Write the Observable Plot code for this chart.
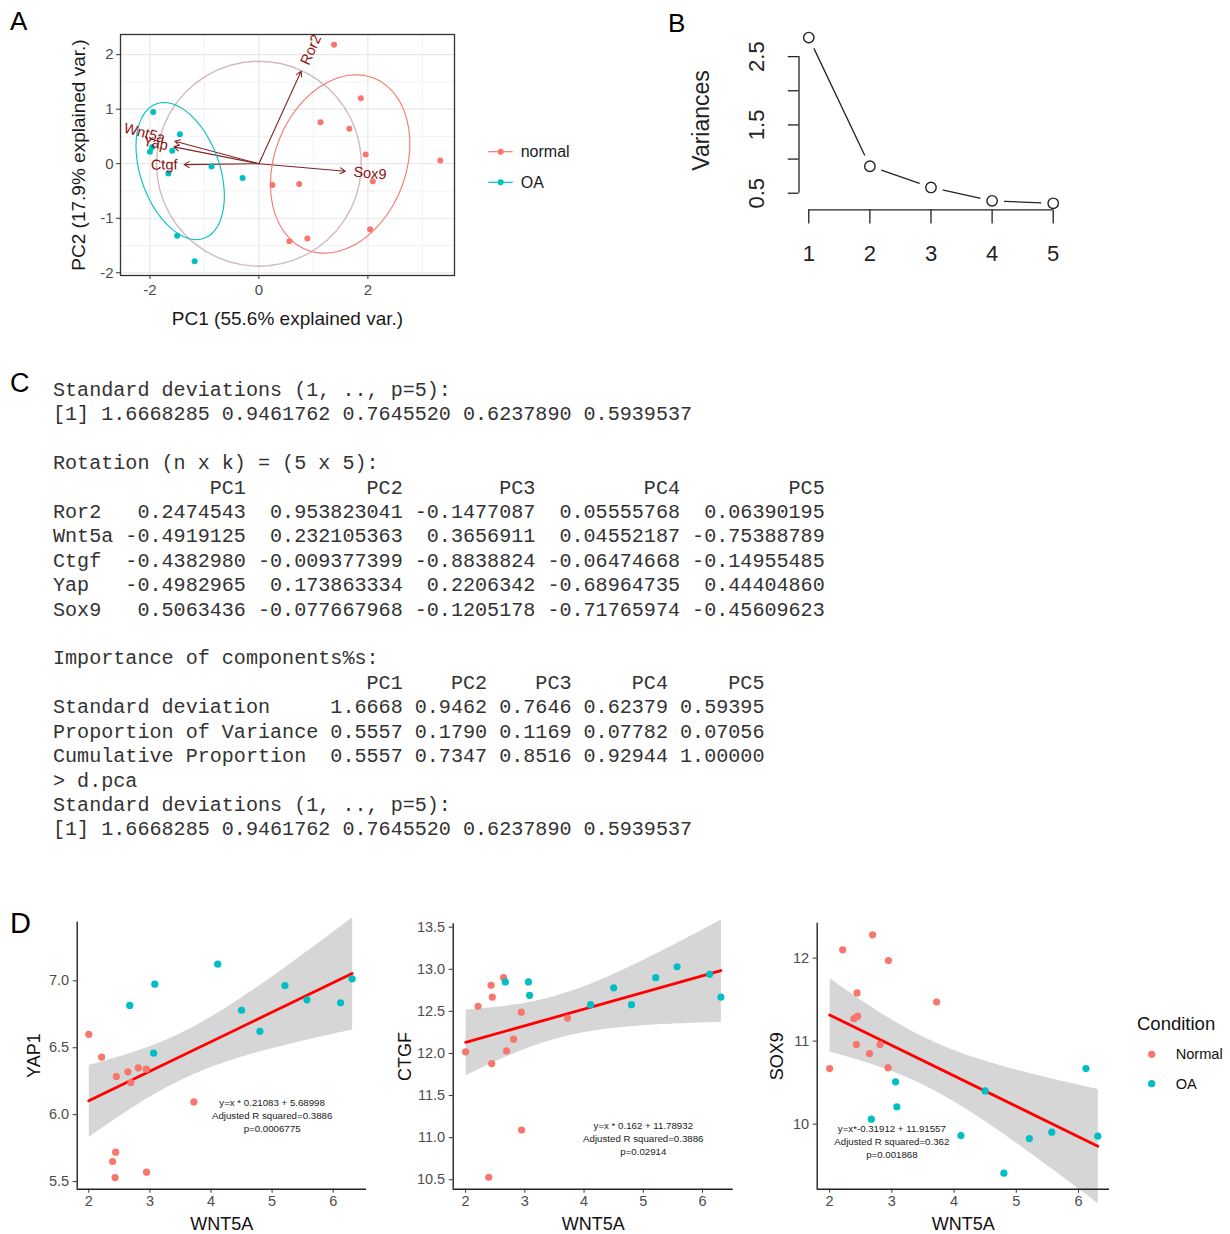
<!DOCTYPE html>
<html><head><meta charset="utf-8">
<script src="https://cdn.jsdelivr.net/npm/d3@7"></script>
<script src="https://cdn.jsdelivr.net/npm/@observablehq/plot@0.6"></script>
<style>
body{margin:0;background:#fff;}
#fig{position:relative;width:1230px;height:1234px;overflow:hidden;background:#fff;font-family:'Liberation Sans',Arial,sans-serif;}
.panel{position:absolute;}
#C{position:absolute;left:53px;top:379px;margin:0;font-family:'Liberation Mono',monospace;font-size:20.1px;line-height:24.4px;color:#333;white-space:pre;}
</style></head><body><div id="fig"></div>
<script>
// ================= DATA =================
// PCA summary (panel C / B)
const pcNames = ["PC1","PC2","PC3","PC4","PC5"];
const sdev = [1.6668285, 0.9461762, 0.7645520, 0.6237890, 0.5939537];
const varNames = ["Ror2","Wnt5a","Ctgf","Yap","Sox9"];
const rotPC1 = [0.2474543, -0.4919125, -0.4382980, -0.4982965, 0.5063436];
const rotPC2 = [0.953823041, 0.232105363, -0.009377399, 0.173863334, -0.077667968];
const rotPC3 = [-0.1477087, 0.3656911, -0.8838824, 0.2206342, -0.1205178];
const rotPC4 = [0.05555768, 0.04552187, -0.06474668, -0.68964735, -0.71765974];
const rotPC5 = [0.06390195, -0.75388789, -0.14955485, 0.44404860, -0.45609623];
const rotDigits = [7, 9, 7, 8, 8];
const impRowNames = ["Standard deviation","Proportion of Variance","Cumulative Proportion"];
const impSD = [1.6668, 0.9462, 0.7646, 0.62379, 0.59395];
const impProp = [0.5557, 0.1790, 0.1169, 0.07782, 0.07056];
const impCum = [0.5557, 0.7347, 0.8516, 0.92944, 1.00000];
const impDigits = [4, 4, 4, 5, 5];

// Panel A: PCA scores
const groupsA = ["normal","OA"];
const pc1Normal = [1.38, 1.87, 1.13, 1.66, 1.96, 3.33, 2.09, 0.25, 0.74, 2.04, 0.56, 0.89];
const pc2Normal = [2.18, 1.20, 0.76, 0.64, 0.17, 0.06, -0.32, -0.39, -0.37, -1.20, -1.42, -1.37];
const pc1OA = [-1.94, -1.45, -1.59, -2.00, -1.96, -1.66, -0.87, -0.30, -1.50, -1.18];
const pc2OA = [0.95, 0.54, 0.24, 0.22, 0.30, -0.18, -0.05, -0.26, -1.32, -1.79];
const circleRadius = 1.88;
const ellipseProb = 0.68;
const titlesA = ["PC1 (55.6% explained var.)", "PC2 (17.9% explained var.)"];

// Panel B
const pcIndex = [1, 2, 3, 4, 5];
const bYTicks = [0.5, 1, 1.5, 2, 2.5];
const bYLabelled = [0.5, 1.5, 2.5];

// Panel D
const conditions = ["Normal","OA"];
const wnt5aNormal = [2.00, 2.21, 2.39, 2.43, 2.44, 2.45, 2.64, 2.69, 2.81, 2.94, 2.945, 3.72];
const wnt5aOA = [2.67, 3.06, 3.08, 4.11, 4.50, 4.80, 5.21, 5.57, 6.12, 6.31];
const yap1Normal = [6.60, 6.43, 5.65, 5.53, 5.72, 6.285, 6.32, 6.24, 6.35, 6.34, 5.57, 6.095];
const yap1OA = [6.816, 6.459, 6.975, 7.124, 6.78, 6.623, 6.965, 6.858, 6.836, 7.015];
const ctgfNormal = [12.02, 12.56, 10.53, 12.81, 11.88, 12.67, 12.90, 12.03, 12.17, 12.49, 11.09, 12.42];
const ctgfOA = [12.85, 12.85, 12.69, 12.58, 12.78, 12.58, 12.90, 13.03, 12.94, 12.67];
const sox9Normal = [10.67, 12.10, 11.27, 10.96, 11.58, 11.30, 10.85, 12.28, 10.96, 10.68, 11.97, 11.47];
const sox9OA = [10.06, 10.51, 10.21, 9.863, 10.40, 9.41, 9.827, 9.904, 10.67, 9.855];
const xTicksD = [2, 3, 4, 5, 6];
const yTicksYAP = [5.5, 6.0, 6.5, 7.0];
const yTicksCTGF = [10.5, 11.0, 11.5, 12.0, 12.5, 13.0, 13.5];
const yTicksSOX = [10, 11, 12];
const annotYAP = {x: 5, y: 6.0, text: "y=x * 0.21083 + 5.68998\nAdjusted R squared=0.3886\np=0.0006775"};
const annotCTGF = {x: 5, y: 11.0, text: "y=x * 0.162 + 11.78932\nAdjusted R squared=0.3886\np=0.02914"};
const annotSOX = {x: 3, y: 9.8, text: "y=x*-0.31912 + 11.91557\nAdjusted R squared=0.362\np=0.001868"};

// ================= STYLE =================
const RED = "#F8766D", TEAL = "#00BFC4";
const FONT = "'Liberation Sans', Arial, Helvetica, sans-serif";
const fig = document.getElementById("fig");
function place(node, left, top){ const d=document.createElement("div"); d.className="panel"; d.style.left=left+"px"; d.style.top=top+"px"; d.appendChild(node); fig.appendChild(d); }
const baseStyle = {fontFamily: FONT, background: "transparent", overflow: "visible", color: "#000"};

// ================= PANEL A =================
const ptsA = [
  ...pc1Normal.map((x,i)=>({x, y: pc2Normal[i], group: "normal"})),
  ...pc1OA.map((x,i)=>({x, y: pc2OA[i], group: "OA"}))
];
function ellipse(xs, ys, prob, group, n=50){
  const mx=d3.mean(xs), my=d3.mean(ys), N=xs.length;
  let sxx=0, syy=0, sxy=0;
  for(let i=0;i<N;i++){const dx=xs[i]-mx, dy=ys[i]-my; sxx+=dx*dx; syy+=dy*dy; sxy+=dx*dy;}
  sxx/=N-1; syy/=N-1; sxy/=N-1;
  const a=Math.sqrt(sxx), b=sxy/a, c=Math.sqrt(syy-b*b);
  const ed=Math.sqrt(-2*Math.log(1-prob));
  return d3.range(n).map(i=>{const t=-Math.PI+2*Math.PI*i/(n-1); const u=Math.cos(t), v=Math.sin(t); return {x: mx+ed*u*a, y: my+ed*(u*b+v*c), group};});
}
const ellA = [...ellipse(pc1Normal, pc2Normal, ellipseProb, "normal"), ...ellipse(pc1OA, pc2OA, ellipseProb, "OA")];
const circleA = d3.range(50).map(i=>{const t=-Math.PI+2*Math.PI*i/49; return {x: circleRadius*Math.cos(t), y: circleRadius*Math.sin(t)};});

const A = {w: 470, h: 340, mL: 120, mR: 16, mT: 34, mB: 65, xd: [-2.54, 3.59], yd: [-2.05, 2.37]};
const pxA = (A.w - A.mL - A.mR) / (A.xd[1] - A.xd[0]);
const ctx = document.createElement("canvas").getContext("2d");
const labelSize = 14.5;
ctx.font = `${labelSize}px ${FONT}`;
const arrowsA = varNames.map((name,i)=>{
  const x2 = circleRadius*rotPC1[i]*sdev[0], y2 = circleRadius*rotPC2[i]*sdev[1];
  const len = Math.hypot(x2, y2);
  const off = 0.25*ctx.measureText(name).width/pxA;
  return {name, x1: 0, y1: 0, x2, y2, lx: x2 + x2/len*off, ly: y2 + y2/len*off,
          rot: -Math.atan(y2/x2)*180/Math.PI, side: x2 >= 0 ? "start" : "end"};
});

const plotA = Plot.plot({
  width: A.w, height: A.h, marginLeft: A.mL, marginRight: A.mR, marginTop: A.mT, marginBottom: A.mB,
  style: baseStyle,
  x: {domain: A.xd}, y: {domain: A.yd},
  color: {domain: groupsA, range: [RED, TEAL]},
  marks: [
    Plot.gridX([-1, 1, 3], {stroke: "#ebebeb", strokeOpacity: 1, strokeWidth: 0.6}),
    Plot.gridY([-1.5, -0.5, 0.5, 1.5], {stroke: "#ebebeb", strokeOpacity: 1, strokeWidth: 0.6}),
    Plot.gridX([-2, 0, 2], {stroke: "#e8e8e8", strokeOpacity: 1, strokeWidth: 1.2}),
    Plot.gridY([-2, -1, 0, 1, 2], {stroke: "#e8e8e8", strokeOpacity: 1, strokeWidth: 1.2}),
    Plot.line(circleA, {x: "x", y: "y", stroke: "#7E3A50", strokeOpacity: 0.35, strokeWidth: 1.4}),
    Plot.arrow(arrowsA, {x1: "x1", y1: "y1", x2: "x2", y2: "y2", stroke: "#832424", strokeWidth: 1.1, headLength: 8}),
    Plot.dot(ptsA, {x: "x", y: "y", fill: "group", r: 3}),
    Plot.line(ellA, {x: "x", y: "y", z: "group", stroke: "group", strokeWidth: 1.1}),
    Plot.text(arrowsA.filter(d=>d.side==="start"), {x: "lx", y: "ly", text: "name", rotate: "rot", textAnchor: "start", fill: "#8B1010", fontSize: labelSize}),
    Plot.text(arrowsA.filter(d=>d.side==="end"), {x: "lx", y: "ly", text: "name", rotate: "rot", textAnchor: "end", fill: "#8B1010", fontSize: labelSize}),
    Plot.frame({stroke: "#333", strokeWidth: 1.3}),
    Plot.axisX([-2, 0, 2], {label: null, tickSize: 4, tickPadding: 5, fontSize: 15, stroke: "#333", fill: "#4D4D4D", tickFormat: d=>String(d)}),
    Plot.axisY([-2, -1, 0, 1, 2], {label: null, tickSize: 4, tickPadding: 3, fontSize: 15, stroke: "#333", fill: "#4D4D4D", tickFormat: d=>String(d)}),
    Plot.text([titlesA[0]], {frameAnchor: "bottom", dy: 43, lineAnchor: "middle", textAnchor: "middle", fontSize: 19, fill: "#1a1a1a"}),
    Plot.text([titlesA[1]], {frameAnchor: "left", dx: -42, rotate: -90, lineAnchor: "middle", textAnchor: "middle", fontSize: 19, fill: "#1a1a1a"})
  ]
});
place(plotA, 0, 0);

// legend A
{
  const svg = d3.create("svg").attr("width", 130).attr("height", 80).style("overflow","visible");
  groupsA.forEach((g,i)=>{
    const y = 31.7 + i*30.6, col = [RED, TEAL][i];
    svg.append("line").attr("x1", 8.3).attr("x2", 32.7).attr("y1", y).attr("y2", y).attr("stroke", col).attr("stroke-width", 1.2);
    svg.append("circle").attr("cx", 20.7).attr("cy", y).attr("r", 3).attr("fill", col);
    svg.append("text").attr("x", 40.7).attr("y", y).attr("dy", "0.35em").attr("font-family", FONT).attr("font-size", 16).attr("fill", "#1a1a1a").text(g);
  });
  place(svg.node(), 480, 120);
}

// ================= PANEL B =================
const variances = sdev.map(s => s*s);
const rowsB = pcIndex.map((pc,k)=>({pc, v: variances[k]}));
const bXd = [0.84, 5.16], bYd = [0.256, 2.875];
const plotB = Plot.plot({
  width: 420, height: 290, marginLeft: 138.5, marginRight: 17.5, marginTop: 30.5, marginBottom: 80.6,
  style: baseStyle,
  x: {domain: bXd}, y: {domain: bYd},
  marks: [
    Plot.line(rowsB, {x: "pc", y: "v", stroke: "#222", strokeWidth: 1.3}),
    Plot.dot(rowsB, {x: "pc", y: "v", r: 12, fill: "white"}),
    Plot.dot(rowsB, {x: "pc", y: "v", r: 5.2, fill: "white", stroke: "#222", strokeWidth: 1.4}),
    Plot.ruleX([bXd[0]], {y1: d3.min(bYTicks), y2: d3.max(bYTicks), stroke: "#222", strokeWidth: 1.3}),
    Plot.axisY(bYTicks, {label: null, tickSize: 10.7, tickFormat: () => "", stroke: "#222", strokeWidth: 1.3}),
    Plot.text(bYLabelled, {x: bXd[0], y: d=>d, text: d=>d3.format(".1f")(d), rotate: -90, dx: -42, textAnchor: "middle", lineAnchor: "middle", fontSize: 22, fill: "#222"}),
    Plot.ruleY([bYd[0]], {x1: d3.min(pcIndex), x2: d3.max(pcIndex), stroke: "#222", strokeWidth: 1.3}),
    Plot.axisX(pcIndex, {label: null, tickSize: 14, tickPadding: 21, fontSize: 22, stroke: "#222", strokeWidth: 1.3, fill: "#222"}),
    Plot.text(["Variances"], {frameAnchor: "left", dx: -97, rotate: -90, textAnchor: "middle", lineAnchor: "middle", fontSize: 23, fill: "#222"})
  ]
});
place(plotB, 660, 0);

// ================= PANEL C =================
{
  const fmtCols = (cols, digits) => cols.map((c,j)=>{ const s=c.map(v=>v.toFixed(digits[j])); const w=Math.max(pcNames[j].length, ...s.map(t=>t.length)); return {s, w}; });
  const rotCols = fmtCols([rotPC1, rotPC2, rotPC3, rotPC4, rotPC5], rotDigits);
  const rnW = Math.max(...varNames.map(n=>n.length));
  const rotLines = [" ".repeat(rnW) + rotCols.map((c,j)=>pcNames[j].padStart(c.w+1)).join("")];
  varNames.forEach((n,i)=>rotLines.push(n.padEnd(rnW) + rotCols.map(c=>c.s[i].padStart(c.w+1)).join("")));
  const impVals = [impSD, impProp, impCum];
  const impCols = fmtCols(pcNames.map((_,j)=>impVals.map(r=>r[j])), impDigits);
  const irW = Math.max(...impRowNames.map(n=>n.length));
  const impLines = [" ".repeat(irW) + impCols.map((c,j)=>pcNames[j].padStart(c.w+1)).join("")];
  impRowNames.forEach((n,i)=>impLines.push(n.padEnd(irW) + impCols.map(c=>c.s[i].padStart(c.w+1)).join("")));
  const sdLine = "[1] " + sdev.map(v=>v.toFixed(7)).join(" ");
  const lines = [
    "Standard deviations (1, .., p=5):", sdLine, "",
    "Rotation (n x k) = (5 x 5):", ...rotLines, "",
    "Importance of components%s:", ...impLines,
    "> d.pca", "Standard deviations (1, .., p=5):", sdLine
  ];
  const pre = document.createElement("pre"); pre.id = "C"; pre.textContent = lines.join("\n");
  fig.appendChild(pre);
}

// ================= PANEL D =================
function scatter(cfg){
  const rows = [
    ...wnt5aNormal.map((x,i)=>({x, y: cfg.yN[i], cond: "Normal"})),
    ...wnt5aOA.map((x,i)=>({x, y: cfg.yO[i], cond: "OA"}))
  ];
  return Plot.plot({
    width: cfg.w, height: 334, marginLeft: cfg.mL, marginRight: cfg.w - cfg.fR, marginTop: cfg.mT, marginBottom: 334 - 288.7,
    style: baseStyle,
    x: {domain: cfg.xd}, y: {domain: cfg.yd},
    color: {domain: conditions, range: [RED, TEAL]},
    marks: [
      Plot.linearRegressionY(rows, {x: "x", y: "y", stroke: "#FF0000", strokeWidth: 2.8, fill: "#999999", fillOpacity: 0.4, ci: 0.95}),
      Plot.dot(rows, {x: "x", y: "y", fill: "cond", r: 3.6}),
      Plot.text([cfg.annot], {x: "x", y: "y", text: "text", fontSize: 9.7, lineHeight: 1.37, fill: "#1a1a1a"}),
      Plot.ruleX([cfg.xd[0]], {stroke: "#222", strokeWidth: 1.4}),
      Plot.ruleY([cfg.yd[0]], {stroke: "#222", strokeWidth: 1.4}),
      Plot.axisX(xTicksD, {label: null, tickSize: 4, tickPadding: 3, fontSize: 14.5, stroke: "#333", fill: "#4D4D4D"}),
      Plot.axisY(cfg.yTicks, {label: null, tickSize: 4, tickPadding: 4, fontSize: 14.5, stroke: "#333", fill: "#4D4D4D", tickFormat: cfg.fmt}),
      Plot.text(["WNT5A"], {frameAnchor: "bottom", dy: 35, lineAnchor: "middle", textAnchor: "middle", fontSize: 18, fill: "#111"}),
      Plot.text([cfg.yName], {frameAnchor: "left", dx: cfg.yDx, rotate: -90, lineAnchor: "middle", textAnchor: "middle", fontSize: 18, fill: "#111"})
    ]
  });
}
place(scatter({w: 380, mL: 76.7, fR: 366, mT: 21.7, xd: [1.81, 6.545], yd: [5.443, 7.438], yTicks: yTicksYAP, fmt: d3.format(".1f"), yN: yap1Normal, yO: yap1OA, yName: "YAP1", yDx: -43.4, annot: annotYAP}), 0, 900);
place(scatter({w: 370, mL: 72.7, fR: 352.7, mT: 23.3, xd: [1.79, 6.518], yd: [10.388, 13.54], yTicks: yTicksCTGF, fmt: d3.format(".1f"), yN: ctgfNormal, yO: ctgfOA, yName: "CTGF", yDx: -47.7, annot: annotCTGF}), 380, 900);
place(scatter({w: 370, mL: 66.7, fR: 359, mT: 22.7, xd: [1.80, 6.498], yd: [9.217, 12.42], yTicks: yTicksSOX, fmt: d3.format("d"), yN: sox9Normal, yO: sox9OA, yName: "SOX9", yDx: -40, annot: annotSOX}), 750, 900);

// legend D
{
  const svg = d3.create("svg").attr("width", 105).attr("height", 100).style("overflow","visible");
  svg.append("text").attr("x", 12).attr("y", 24).attr("dy", "0.35em").attr("font-family", FONT).attr("font-size", 18.5).attr("fill", "#111").text("Condition");
  conditions.forEach((c,i)=>{
    const y = 54.3 + i*29.4, col = [RED, TEAL][i];
    svg.append("circle").attr("cx", 26.7).attr("cy", y).attr("r", 3.6).attr("fill", col);
    svg.append("text").attr("x", 50.7).attr("y", y).attr("dy", "0.35em").attr("font-family", FONT).attr("font-size", 14.6).attr("fill", "#111").text(c);
  });
  place(svg.node(), 1125, 1000);
}

// panel letters
{
  const svg = d3.create("svg").attr("width", 1230).attr("height", 1234).style("pointer-events","none");
  [["A", 10, 30, 26], ["B", 668, 31.5, 26], ["C", 10, 392, 27], ["D", 10, 933, 29]].forEach(([t,x,y,s])=>{
    svg.append("text").attr("x", x).attr("y", y).attr("font-family", FONT).attr("font-size", s).attr("fill", "#000").text(t);
  });
  place(svg.node(), 0, 0);
}
</script></body></html>
